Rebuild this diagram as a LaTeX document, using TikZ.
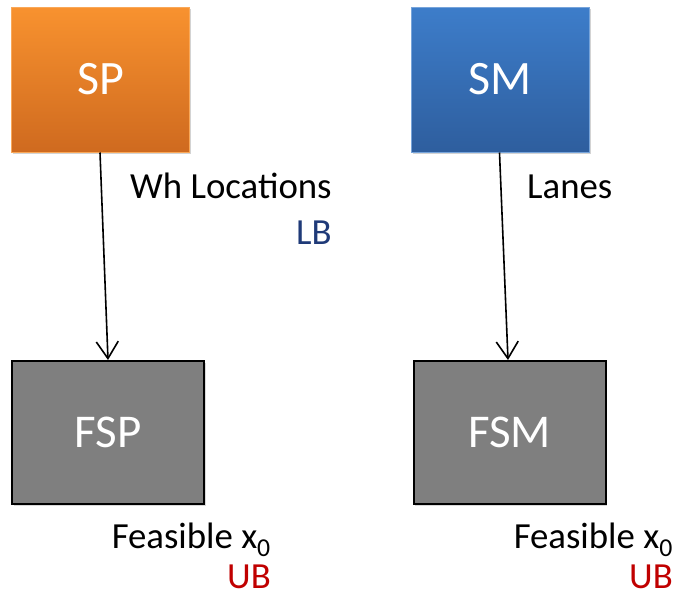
\documentclass[tikz,border=0pt]{standalone}
\usepackage{fontspec}
\setmainfont{Carlito}
\usetikzlibrary{arrows.meta,shadows}
\definecolor{orTop}{HTML}{F8922F}
\definecolor{orBot}{HTML}{CF6A1F}
\definecolor{blTop}{HTML}{3D7DCA}
\definecolor{blBot}{HTML}{2E5E9E}
\definecolor{grayfill}{HTML}{7F7F7F}
\definecolor{lbcol}{HTML}{1F3A78}
\definecolor{ubcol}{HTML}{C00000}
\tikzset{
  topbox/.style={minimum width=178pt, minimum height=145pt, inner sep=0pt,
    text=white, font=\fontsize{48}{52}\selectfont,
    drop shadow={shadow xshift=1.5pt, shadow yshift=-2pt, opacity=0.35}},
  spbox/.style={topbox, top color=orTop, bottom color=orBot, draw=orTop!80!white, line width=1pt},
  smbox/.style={topbox, top color=blTop, bottom color=blBot, draw=blTop!70!white, line width=1pt},
  fbox/.style={minimum width=192pt, minimum height=143pt, inner sep=0pt,
    fill=grayfill, draw=black, line width=2pt, text=white,
    font=\fontsize{47}{52}\selectfont,
    drop shadow={shadow xshift=1.5pt, shadow yshift=-2pt, opacity=0.3}},
  lbl/.style={font=\fontsize{36.8}{40}\selectfont, inner sep=0pt, text=black},
  conn/.style={-{Straight Barb[length=17pt,width=22pt,line width=1.6pt]}, line width=1.6pt, black}
}
\begin{document}
\begin{tikzpicture}[x=1pt,y=-1pt]
\useasboundingbox (0,0) rectangle (677,597);
\node[spbox] (SP) at (100.5,79.5) {SP};
\node[smbox] (SM) at (500.5,79.5) {SM};
\node[fbox] (FSP) at (108,432.5) {FSP};
\node[fbox] (FSM) at (509.5,432.5) {FSM};
\draw[conn] ([xshift=-0.5pt]SP.south) -- (FSP.north);
\draw[conn] ([xshift=-1pt]SM.south) -- ([xshift=-1.5pt]FSM.north);
\node[lbl, anchor=base west] (whl) at (130,198) {Wh Locations};
\node[lbl, anchor=base east, text=lbcol] (lb) at (whl.base east |- 0,244) {LB};
\node[lbl, anchor=base west] (lanes) at (527,198) {Lanes};
\node[lbl, anchor=base east] (feas1) at (271,548) {Feasible x\textsubscript{0}};
\node[lbl, anchor=base east, text=ubcol, text depth=0pt] (ub1) at (271,588) {UB};
\node[lbl, anchor=base east] (feas2) at (673,548) {Feasible x\textsubscript{0}};
\node[lbl, anchor=base east, text=ubcol, text depth=0pt] (ub2) at (673,588) {UB};
\end{tikzpicture}
\end{document}
